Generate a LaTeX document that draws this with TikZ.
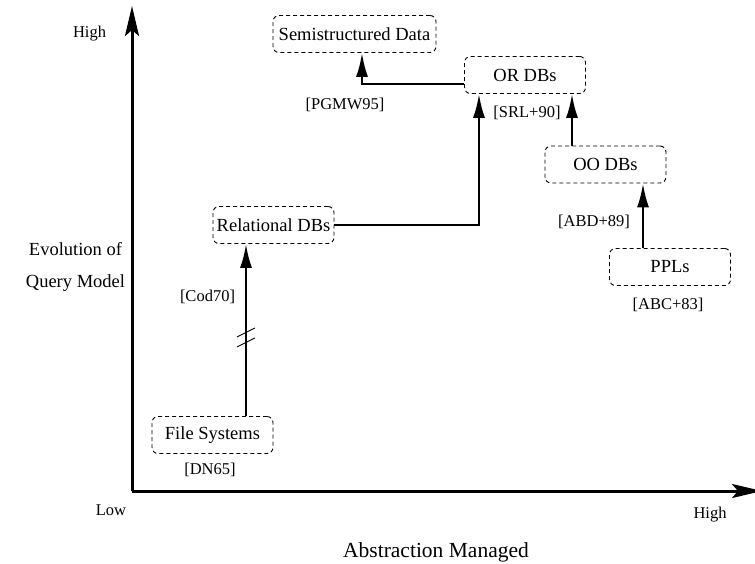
\documentclass[tikz,border=0pt]{standalone}
\usepackage{fontspec}
\setmainfont{Liberation Serif}
\usetikzlibrary{arrows.meta,calc}

\tikzset{
  stage/.style={draw, dashed, dash pattern=on 4pt off 3pt, line width=0.9pt,
    rounded corners=6pt, minimum width=121pt, minimum height=37pt,
    inner sep=0pt, font=\fontsize{18.5}{21}\selectfont},
  cite/.style={inner sep=0pt, font=\fontsize{16.5}{19}\selectfont},
  axlabel/.style={inner sep=0pt, font=\fontsize{16.5}{19}\selectfont},
  axtitle/.style={inner sep=0pt, font=\fontsize{18.5}{21}\selectfont},
  conn/.style={line width=2.3pt, -{Latex[length=24pt,width=12pt]}},
  axis/.style={line width=3pt, -{Stealth[length=30pt,width=14pt,inset=6pt]}},
  breakmark/.style={line width=0.9pt},
}

\begin{document}
\begin{tikzpicture}[x=1pt,y=-1pt]
  \useasboundingbox (0,0) rectangle (755,563);

  % axes
  \coordinate (origin) at (132,491);
  \coordinate (ytop) at (132,6);
  \coordinate (xend) at (762,491);
  \draw[axis] (origin) -- (ytop);
  \draw[axis] (origin) -- (xend);

  \node[axlabel] (yhigh) at (89.5,34) {High};
  \node[axlabel] (low) at (111,510) {Low};
  \node[axlabel] (xhigh) at (710,515) {High};
  \node[inner sep=0pt, font=\fontsize{21.5}{24}\selectfont] (xtitle) at (436,552) {Abstraction Managed};
  \node[axtitle] (ytitle1) at (75.5,249) {Evolution of};
  \node[axtitle] (ytitle2) at (75.5,283) {Query Model};

  % stages
  \node[stage, minimum width=163pt] (semi) at (354.5,34) {Semistructured Data};
  \node[stage] (ordb) at (525,75) {OR DBs};
  \node[stage] (oodb) at (605.5,164.5) {OO DBs};
  \node[stage] (ppl) at (670,267) {PPLs};
  \node[stage] (rel) at (273.5,225) {Relational DBs};
  \node[stage] (fs) at (212.5,435) {File Systems};

  % references
  \node[cite] (c1) at (345,105) {[PGMW95]};
  \node[cite] (c2) at (527,113) {[SRL+90]};
  \node[cite] (c3) at (594,222) {[ABD+89]};
  \node[cite] (c4) at (668,305) {[ABC+83]};
  \node[cite] (c5) at (207.5,297) {[Cod70]};
  \node[cite] (c6) at (210,470) {[DN65]};

  % transitions
  \draw[conn] ([xshift=33.5pt]fs.north) --
    coordinate[pos=0.457] (brk) ([xshift=33.5pt]fs.north |- rel.south);
  \draw[breakmark] ($(brk)+(-9,-0.5)$) -- ($(brk)+(9,-9.5)$);
  \draw[breakmark] ($(brk)+(-9,9.5)$) -- ($(brk)+(9,0.5)$);

  \draw[conn] (rel.east) -| ([xshift=-46pt]ordb.south);
  \draw[conn] ([xshift=-33.5pt]oodb.north) -- ([xshift=-33.5pt]oodb.north |- ordb.south);
  \draw[conn] ([xshift=-27pt]ppl.north) -- ([xshift=-27pt]ppl.north |- oodb.south);
  \draw[conn] ([yshift=-9pt]ordb.west) -| ([xshift=7.5pt]semi.south);
\end{tikzpicture}
\end{document}
